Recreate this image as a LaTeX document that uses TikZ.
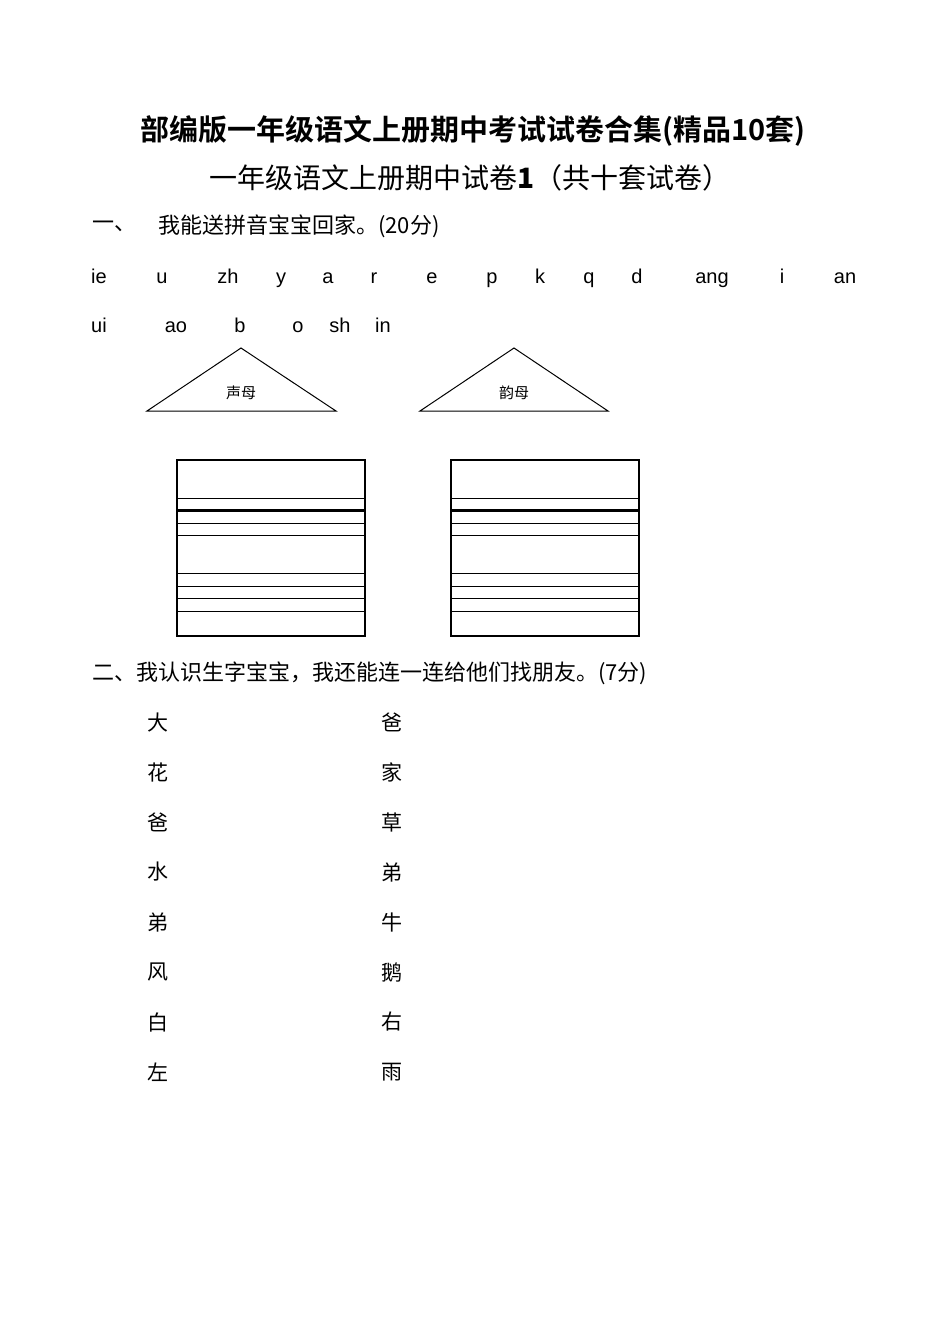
\documentclass[tikz,border=0pt]{standalone}
\usepackage{fontspec}
\setmainfont{Liberation Sans}
\newfontfamily\cjk{Noto Sans CJK SC}
\newfontfamily\cjkb{Noto Sans CJK SC Bold}
\begin{document}
\begin{tikzpicture}[x=1pt,y=-1pt,
  py/.style={font=\fontsize{20}{20}\selectfont,anchor=base},
  zh/.style={font=\cjk\fontsize{22}{22}\selectfont,anchor=west,inner sep=0},
  tri/.style={draw,line width=1pt},
  rl/.style={line width=0.8pt}]
\useasboundingbox[fill=white] (0,0) rectangle (950,1344);
\node[font=\cjkb\fontsize{29}{29}\selectfont] (t1) at (473,131) {部编版一年级语文上册期中考试试卷合集(精品10套)};
\node[font=\cjk\fontsize{28}{28}\selectfont] (t2) at (470,178) {一年级语文上册期中试卷\textbf{1}（共十套试卷）};
\node[zh] (s1a) at (92,226) {一、};
\node[zh] (s1) at (158,226) {我能送拼音宝宝回家。(20分)};
\foreach \t/\x in {ie/99,u/162,zh/228,y/281,a/328,r/374,e/432,p/492,k/540,q/589,d/637,ang/712,i/782,an/845}
  \node[py] (p\t) at (\x,283) {\t};
\foreach \t/\x [count=\i] in {ui/99,ao/176,b/240,o/298,sh/340,in/383}
  \node[py] (q\i) at (\x,332) {\t};
\draw[tri] (241,348) -- (336,411) -- (147,411) -- cycle;
\draw[tri] (514,348) -- (608,411) -- (420,411) -- cycle;
\node[font=\cjk\fontsize{15}{15}\selectfont] (sm) at (241,393) {声母};
\node[font=\cjk\fontsize{15}{15}\selectfont] (ym) at (514,393) {韵母};
\foreach \x in {177,451}{
  \draw[line width=1.5pt] (\x,460) rectangle (\x+188,636);
  \foreach \y in {498,509,523,535,573,586,598,611} \draw[rl] (\x,\y) -- (\x+188,\y);
  \draw[line width=1.2pt] (\x,511) -- (\x+188,511);
}
\node[zh] (s2) at (92,673) {二、我认识生字宝宝，我还能连一连给他们找朋友。(7分)};
\foreach \a/\b [count=\i] in {大/爸,花/家,爸/草,水/弟,弟/牛,风/鹅,白/右,左/雨}{
  \node[font=\cjk\fontsize{21}{21}\selectfont] (l\i) at (158,672+50*\i) {\a};
  \node[font=\cjk\fontsize{21}{21}\selectfont] (r\i) at (392,672+50*\i) {\b};
}
\end{tikzpicture}
\end{document}
